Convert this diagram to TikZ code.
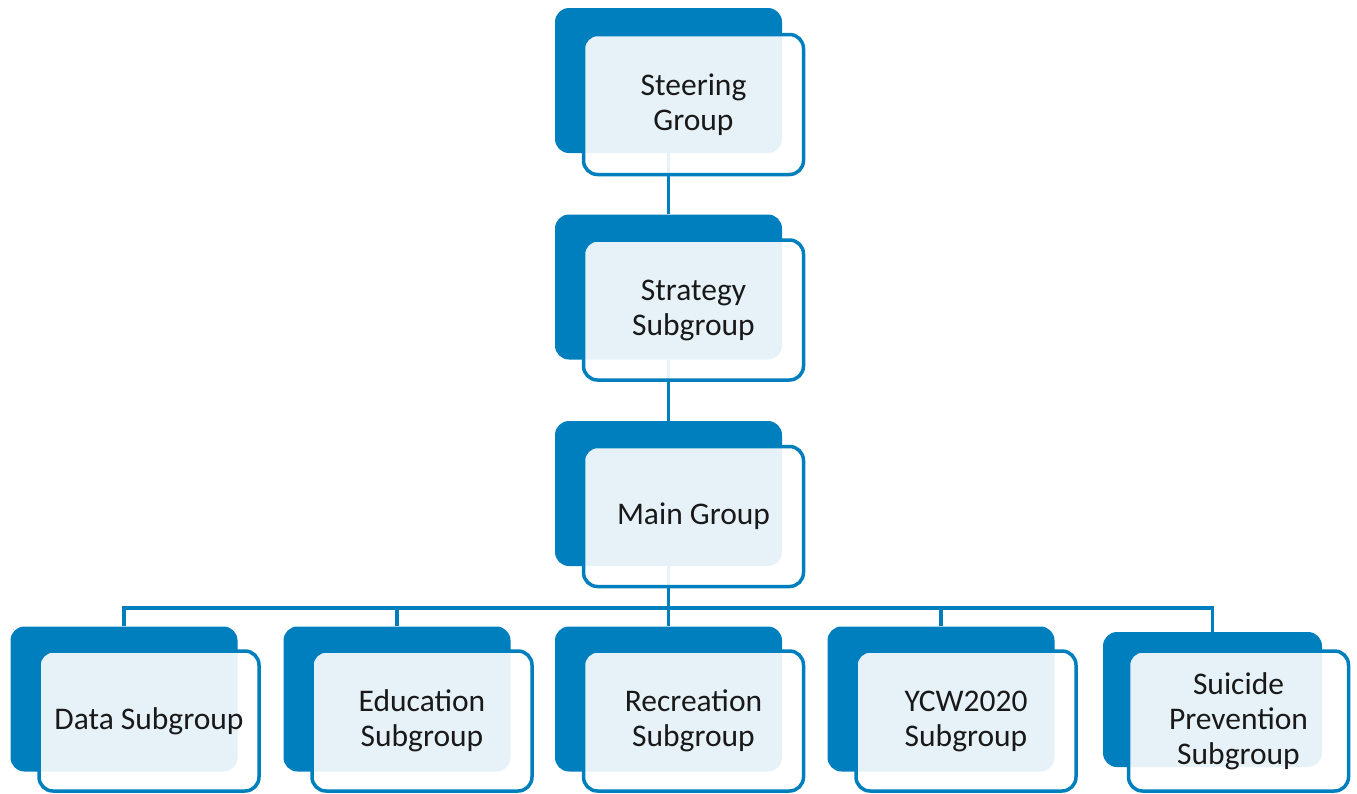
\documentclass[tikz,border=0pt]{standalone}
\usepackage{fontspec}
\setmainfont{Carlito}
\definecolor{sgblue}{RGB}{0,127,190}
\tikzset{
	back/.style={fill=sgblue, rounded corners=14pt, minimum width=227pt, minimum height=145pt, inner sep=0pt},
	front/.style={draw=sgblue, line width=3.5pt, fill=white, fill opacity=.9, text opacity=1, text=black!90, rounded corners=14pt, minimum width=220pt, minimum height=140pt, inner sep=0pt, align=center, font=\fontsize{31.5}{35}\selectfont},
	link/.style={draw=sgblue, line width=3.5pt}
}
\begin{document}
\begin{tikzpicture}[x=1pt, y=-1pt]
		\useasboundingbox(0, 0)rectangle(1357, 793);
		\node[back](steerB)at(668.5, 80.5){};
		\node[back](stratB)at(668.5, 287){};
		\node[back](mainB)at(668.5, 493.5){};
		\node[back](dataB)at(124, 699){};
		\node[back](eduB)at(397, 699){};
		\node[back](recB)at(668.5, 699){};
		\node[back](ycwB)at(941, 699){};
		\node[back, minimum width=219pt, minimum height=135pt](suiB)at(1212.5, 699.5){};
		\coordinate(bus)at(668.5, 608);
		\draw[link](steerB.south)--(stratB.north);
		\draw[link](stratB.south)--(mainB.north);
		\draw[link](mainB.south)--(bus);
		\foreach \c in {dataB, eduB, recB, ycwB, suiB}
			\draw[link](bus)-|(\c.north);
		\node[front](steer)at([shift={(25, 24)}]steerB){Steering\\Group};
		\node[front](strat)at([shift={(25, 23)}]stratB){Strategy\\Subgroup};
		\node[front](main)at([shift={(25, 23)}]mainB){Main Group};
		\node[front](data)at([shift={(25, 22)}]dataB){Data Subgroup};
		\node[front](edu)at([shift={(25, 22)}]eduB){Education\\Subgroup};
		\node[front](rec)at([shift={(25, 22)}]recB){Recreation\\Subgroup};
		\node[front](ycw)at([shift={(25, 22)}]ycwB){YCW2020\\Subgroup};
		\node[front](sui)at([shift={(26, 21.5)}]suiB){Suicide\\Prevention\\Subgroup};
	\end{tikzpicture}
\end{document}
